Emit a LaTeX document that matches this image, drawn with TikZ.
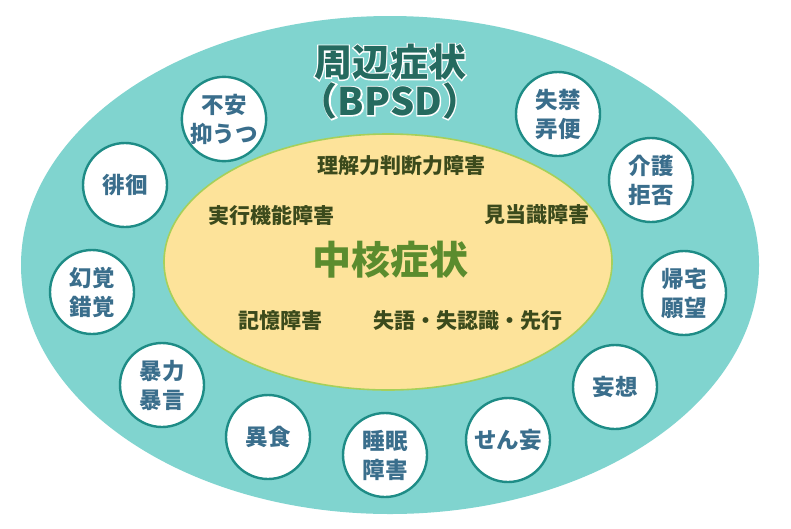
\documentclass[tikz,border=0pt]{standalone}
\usepackage{fontspec}
\setmainfont{Noto Sans CJK JP}
\newfontfamily\glowfont{Noto Sans CJK JP}[BoldFeatures={FakeBold=6}]
\definecolor{outerteal}{HTML}{80D4CF}
\definecolor{ringteal}{HTML}{1E8C86}
\definecolor{coreyellow}{HTML}{FDE39A}
\definecolor{coreedge}{HTML}{A6D05A}
\definecolor{circtext}{HTML}{3A6E8C}
\definecolor{titlecol}{HTML}{256A5F}
\definecolor{coregreen}{HTML}{5B8C2E}
\definecolor{labelgreen}{HTML}{3B4A1C}
\tikzset{
  bubble/.style={circle, draw=ringteal, line width=2.4pt, fill=white, minimum size=84pt, inner sep=0pt,
    align=center, text=circtext, font=\fontsize{22.5}{29}\selectfont\bfseries},
  corelabel/.style={text=labelgreen, font=\fontsize{21}{24}\selectfont\bfseries},
  titletext/.style={text=titlecol, font=\fontsize{38}{42}\selectfont\bfseries},
  titleglow/.style={text=white, font=\glowfont\fontsize{38}{42}\selectfont\bfseries}
}
\begin{document}
\begin{tikzpicture}[x=1pt,y=-1pt]
\useasboundingbox (0,0) rectangle (791,528);
\fill[white] (0,0) rectangle (791,528);
% outer ellipse
\fill[outerteal] (390,265) ellipse [x radius=369, y radius=249];
% inner ellipse
\draw[fill=coreyellow, draw=coreedge, line width=1.6pt] (388,262) ellipse [x radius=224, y radius=128];
% title with white glow
\node[titleglow] (glow1) at (390,62) {周辺症状};
\node[titleglow] (glow2) at (390,101) {（BPSD）};
\node[titletext] (title1) at (390,62) {周辺症状};
\node[titletext] (title2) at (390,101) {（BPSD）};
% core
\node[text=coregreen, font=\fontsize{39}{42}\selectfont\bfseries] (core) at (390,260) {中核症状};
\node[corelabel] (c1) at (401,166) {理解力判断力障害};
\node[corelabel] (c2) at (271,215) {実行機能障害};
\node[corelabel] (c3) at (537,215) {見当識障害};
\node[corelabel] (c4) at (280,321) {記憶障害};
\node[corelabel] (c5) at (468,321) {失語・失認識・先行};
% bubbles
\node[bubble] (b1) at (224,119) {不安\\抑うつ};
\node[bubble] (b2) at (125,185) {徘徊};
\node[bubble] (b3) at (92,292) {幻覚\\錯覚};
\node[bubble] (b4) at (162,385) {暴力\\暴言};
\node[bubble] (b5) at (268,437) {異食};
\node[bubble] (b6) at (385,455) {睡眠\\障害};
\node[bubble] (b7) at (508,440) {せん妄};
\node[bubble] (b8) at (615,387) {妄想};
\node[bubble] (b9) at (684,293) {帰宅\\願望};
\node[bubble] (b10) at (651,180) {介護\\拒否};
\node[bubble] (b11) at (558,114) {失禁\\弄便};
\end{tikzpicture}
\end{document}
